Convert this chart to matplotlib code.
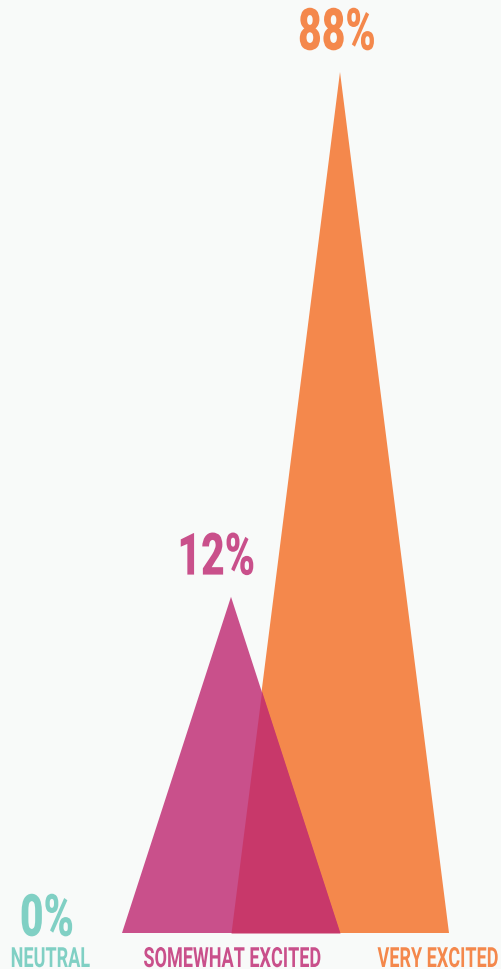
import numpy as np
import matplotlib
matplotlib.use("Agg")
import matplotlib.pyplot as plt
from matplotlib.transforms import blended_transform_factory, Affine2D
from matplotlib.patheffects import AbstractPathEffect

# data
categories = ["NEUTRAL", "SOMEWHAT EXCITED", "VERY EXCITED"]
values = [0, 12, 88]
value_labels = ["0%", "12%", "88%"]

# layout / style
colors = ["#80d0c4", "#c9508b", "#f4884c"]
overlap_color = "#c8386a"
bg = "#f8faf9"
peak_x = [50, 231, 340]
pct_x = [47, 216, 337]
label_x = [50, 232, 438]
half_w = 109
p = 0.472  # peak heights are on a power scale, not linear

fonts = ["Roboto", "DejaVu Sans"]


class Squeeze(AbstractPathEffect):
    # narrow the glyphs around the text centre, to get a condensed look
    def __init__(self, sx):
        super().__init__()
        self.sx = sx

    def draw_path(self, renderer, gc, tpath, affine, rgbFace=None):
        ext = tpath.transformed(affine).get_extents()
        cx = (ext.x0 + ext.x1) / 2
        squeeze = Affine2D().translate(-cx, 0).scale(self.sx, 1).translate(cx, 0)
        renderer.draw_path(gc, tpath, affine + squeeze, rgbFace)


def fwd(v):
    return np.power(np.clip(v, 0, None), p)

def inv(v):
    return np.power(np.clip(v, 0, None), 1.0 / p)

fig = plt.figure(figsize=(5.01, 9.69), dpi=100)
fig.patch.set_facecolor(bg)
ax = fig.add_axes([0, 36 / 969, 1, 861 / 969])
ax.set_facecolor(bg)
ax.set_yscale("function", functions=(fwd, inv))
ax.set_xlim(0, 501)
ax.set_ylim(0, 88)
ax.axis("off")

# triangles, tallest first so the smaller one sits on top
order = np.argsort(values)[::-1]
for i in order:
    if values[i] <= 0:
        continue
    xs = [peak_x[i] - half_w, peak_x[i], peak_x[i] + half_w]
    ys = [0, values[i], 0]
    ax.fill(xs, ys, color=colors[i], lw=0, zorder=2)

# overlap of the two visible peaks, worked out in the scaled space
xg = np.linspace(0, 501, 3000)
def profile(i):
    return fwd(values[i]) * np.clip(1 - np.abs(xg - peak_x[i]) / half_w, 0, None)
ov = np.minimum(profile(1), profile(2))
ax.fill_between(xg, 0, inv(ov), where=ov > 0, color=overlap_color, lw=0, zorder=3)

# percentage labels above each peak
for i in range(len(values)):
    off = 16 if values[i] > 0 else -2
    ax.annotate(value_labels[i], (peak_x[i], values[i]), xytext=(pct_x[i] - peak_x[i], off * 100 / 72),
                textcoords="offset pixels", ha="center", va="baseline",
                fontsize=42, fontweight="heavy", family=fonts,
                color=colors[i], zorder=5, annotation_clip=False,
                path_effects=[Squeeze(0.7)])

# category names under the baseline
trans = blended_transform_factory(ax.transData, fig.transFigure)
for i, name in enumerate(categories):
    ax.text(label_x[i], 2 / 969, name, transform=trans, ha="center",
            va="baseline", fontsize=20, fontweight="bold", family=fonts,
            color=colors[i], path_effects=[Squeeze(0.65)])

fig.savefig("out.png", dpi=100, facecolor=bg)
